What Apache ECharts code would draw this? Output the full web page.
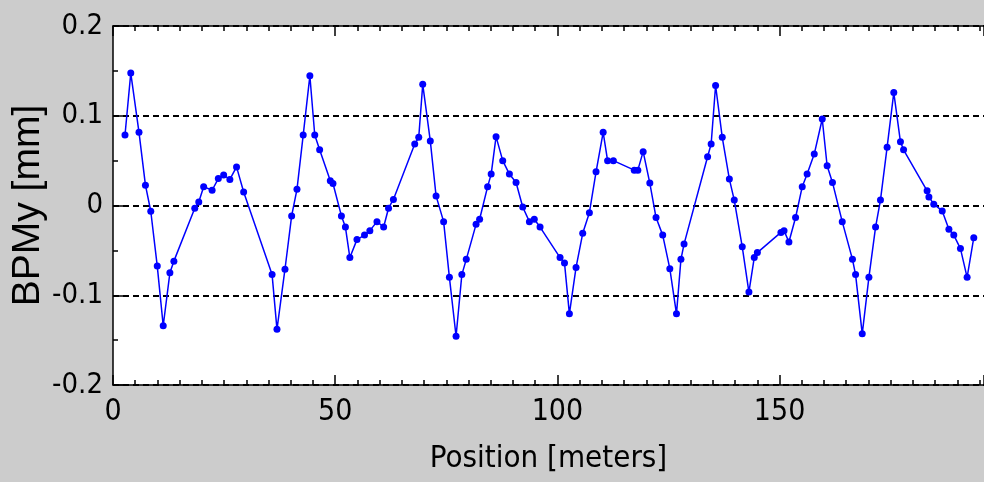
<!DOCTYPE html>
<html>
<head>
<meta charset="utf-8">
<script src="https://cdn.jsdelivr.net/npm/echarts@6/dist/echarts.min.js"></script>
<style>
  html, body { margin: 0; padding: 0; background: #cccccc; }
  #chart { width: 984px; height: 482px; }
</style>
</head>
<body>
<div id="chart"></div>
<script>
// BPM positions [meters]
var positions = [
  2.7, 4.0, 5.85, 7.3, 8.5, 9.96, 11.3, 12.8, 13.7, 18.4, 19.3, 20.4, 22.3, 23.7, 24.9, 26.3, 27.8, 29.4,
  35.8, 36.9, 38.7, 40.2, 41.4, 42.8, 44.3, 45.4, 46.5, 48.9, 49.5, 51.4, 52.3, 53.3, 54.9, 56.6, 57.8,
  59.4, 60.9, 62.0, 63.1, 67.9, 68.8, 69.7, 71.4, 72.7, 74.4, 75.7, 77.2, 78.5, 79.5, 81.7, 82.5, 84.3,
  85.1, 86.2, 87.7, 89.2, 90.7, 92.2, 93.7, 94.8, 96.1, 100.6, 101.6, 102.7, 104.2, 105.7, 107.2, 108.7,
  110.3, 111.3, 112.6, 117.3, 118.1, 119.3, 120.8, 122.2, 123.7, 125.3, 126.8, 127.8, 128.5, 133.8,
  134.6, 135.6, 137.1, 138.7, 139.8, 141.6, 143.1, 144.3, 145.0, 150.3, 151.0, 152.1, 153.6, 155.1,
  156.2, 157.8, 159.6, 160.7, 161.9, 164.1, 166.4, 167.1, 168.6, 170.1, 171.6, 172.7, 174.2, 175.7,
  177.2, 177.9, 183.2, 183.6, 184.7, 186.6, 188.1, 189.2, 190.7, 192.2, 193.7
];
// vertical orbit reading [mm]
var bpmY = [
  0.0785, 0.1475, 0.0815, 0.0227, -0.0064, -0.0675, -0.134, -0.075, -0.062, -0.003, 0.004, 0.021, 0.017, 0.030, 0.034, 0.029, 0.043, 0.015,
  -0.077, -0.138, -0.071, -0.0116, 0.018, 0.0785, 0.1445, 0.0785, 0.062, 0.0275, 0.0245, -0.0116, -0.024, -0.058, -0.038, -0.033, -0.028,
  -0.018, -0.024, -0.003, 0.0067, 0.0685, 0.076, 0.135, 0.072, 0.0107, -0.018, -0.080, -0.1457, -0.077, -0.060, -0.021, -0.0153, 0.021,
  0.035, 0.0767, 0.050, 0.035, 0.0257, -0.0016, -0.018, -0.0153, -0.024, -0.058, -0.064, -0.1207, -0.069, -0.031, -0.008, 0.0375,
  0.0815, 0.050, 0.050, 0.0394, 0.0394, 0.060, 0.025, -0.0134, -0.033, -0.0704, -0.1207, -0.060, -0.043, 0.0543,
  0.0685, 0.1337, 0.076, 0.0294, 0.006, -0.046, -0.0965, -0.058, -0.0525, -0.030, -0.028, -0.0406, -0.0134, 0.021,
  0.035, 0.0573, 0.0964, 0.0443, 0.0257, -0.018, -0.060, -0.077, -0.143, -0.080, -0.024, 0.006, 0.065, 0.1258,
  0.071, 0.062, 0.0163, 0.0096, 0.0015, -0.006, -0.0265, -0.033, -0.048, -0.080, -0.0358
];

var narrow = "'DejaVu Sans Condensed', 'Liberation Sans', sans-serif";
var wide = "'Liberation Sans', Arial, sans-serif";

var seriesData = [];
for (var i = 0; i < positions.length; i++) {
  seriesData.push([positions[i], bpmY[i]]);
}

var chart = echarts.init(document.getElementById("chart"));
chart.setOption({
  backgroundColor: "#cccccc",
  animation: false,
  grid: {
    left: 113,
    top: 26,
    right: 0,
    bottom: 97,
    outerBoundsMode: "none",
    containLabel: false,
    show: true,
    backgroundColor: "#ffffff",
    borderWidth: 0
  },
  xAxis: [
    {
      type: "value",
      min: 0,
      max: 196,
      interval: 50,
      name: "Position [meters]",
      nameLocation: "middle",
      nameGap: 58,
      nameMoveOverlap: false,
      nameTextStyle: { color: "#000", fontSize: 31, fontFamily: narrow },
      axisLine: { show: true, onZero: false, lineStyle: { color: "#000", width: 1.5 } },
      axisTick: { show: true, inside: true, length: 10, lineStyle: { color: "#000", width: 1.5 } },
      minorTick: { show: true, splitNumber: 10, length: 5, lineStyle: { color: "#000", width: 1.5 } },
      axisLabel: { color: "#000", fontSize: 30, fontFamily: narrow, margin: 12, showMaxLabel: false },
      splitLine: { show: false }
    },
    {
      type: "value",
      position: "top",
      min: 0,
      max: 196,
      interval: 50,
      axisLine: { show: true, onZero: false, lineStyle: { color: "#000", width: 1.5 } },
      axisTick: { show: true, inside: true, length: 10, lineStyle: { color: "#000", width: 1.5 } },
      minorTick: { show: true, splitNumber: 10, length: 5, lineStyle: { color: "#000", width: 1.5 } },
      axisLabel: { show: false },
      splitLine: { show: false }
    }
  ],
  yAxis: {
    type: "value",
    min: -0.2,
    max: 0.2,
    interval: 0.1,
    name: "BPMy [mm]",
    nameLocation: "middle",
    nameGap: 65,
    nameMoveOverlap: false,
    nameTextStyle: { color: "#000", fontSize: 39, fontFamily: wide },
    axisLine: { show: true, lineStyle: { color: "#000", width: 1.5 } },
    axisTick: { show: true, inside: true, length: 11, lineStyle: { color: "#000", width: 1.5 } },
    minorTick: { show: true, splitNumber: 2, length: 5, lineStyle: { color: "#000", width: 1.5 } },
    axisLabel: {
      color: "#000",
      fontSize: 29,
      fontFamily: narrow,
      margin: 10,
      formatter: function (v) {
        return String(Math.round(v * 10) / 10);
      }
    },
    splitLine: {
      show: true,
      lineStyle: { color: "#000", width: 2, type: [6, 4] }
    }
  },
  series: [
    {
      name: "BPMy",
      type: "line",
      data: seriesData,
      symbol: "circle",
      symbolSize: 7,
      showAllSymbol: true,
      lineStyle: { color: "#0000ff", width: 1.5 },
      itemStyle: { color: "#0000ff" }
    }
  ]
});
</script>
</body>
</html>
